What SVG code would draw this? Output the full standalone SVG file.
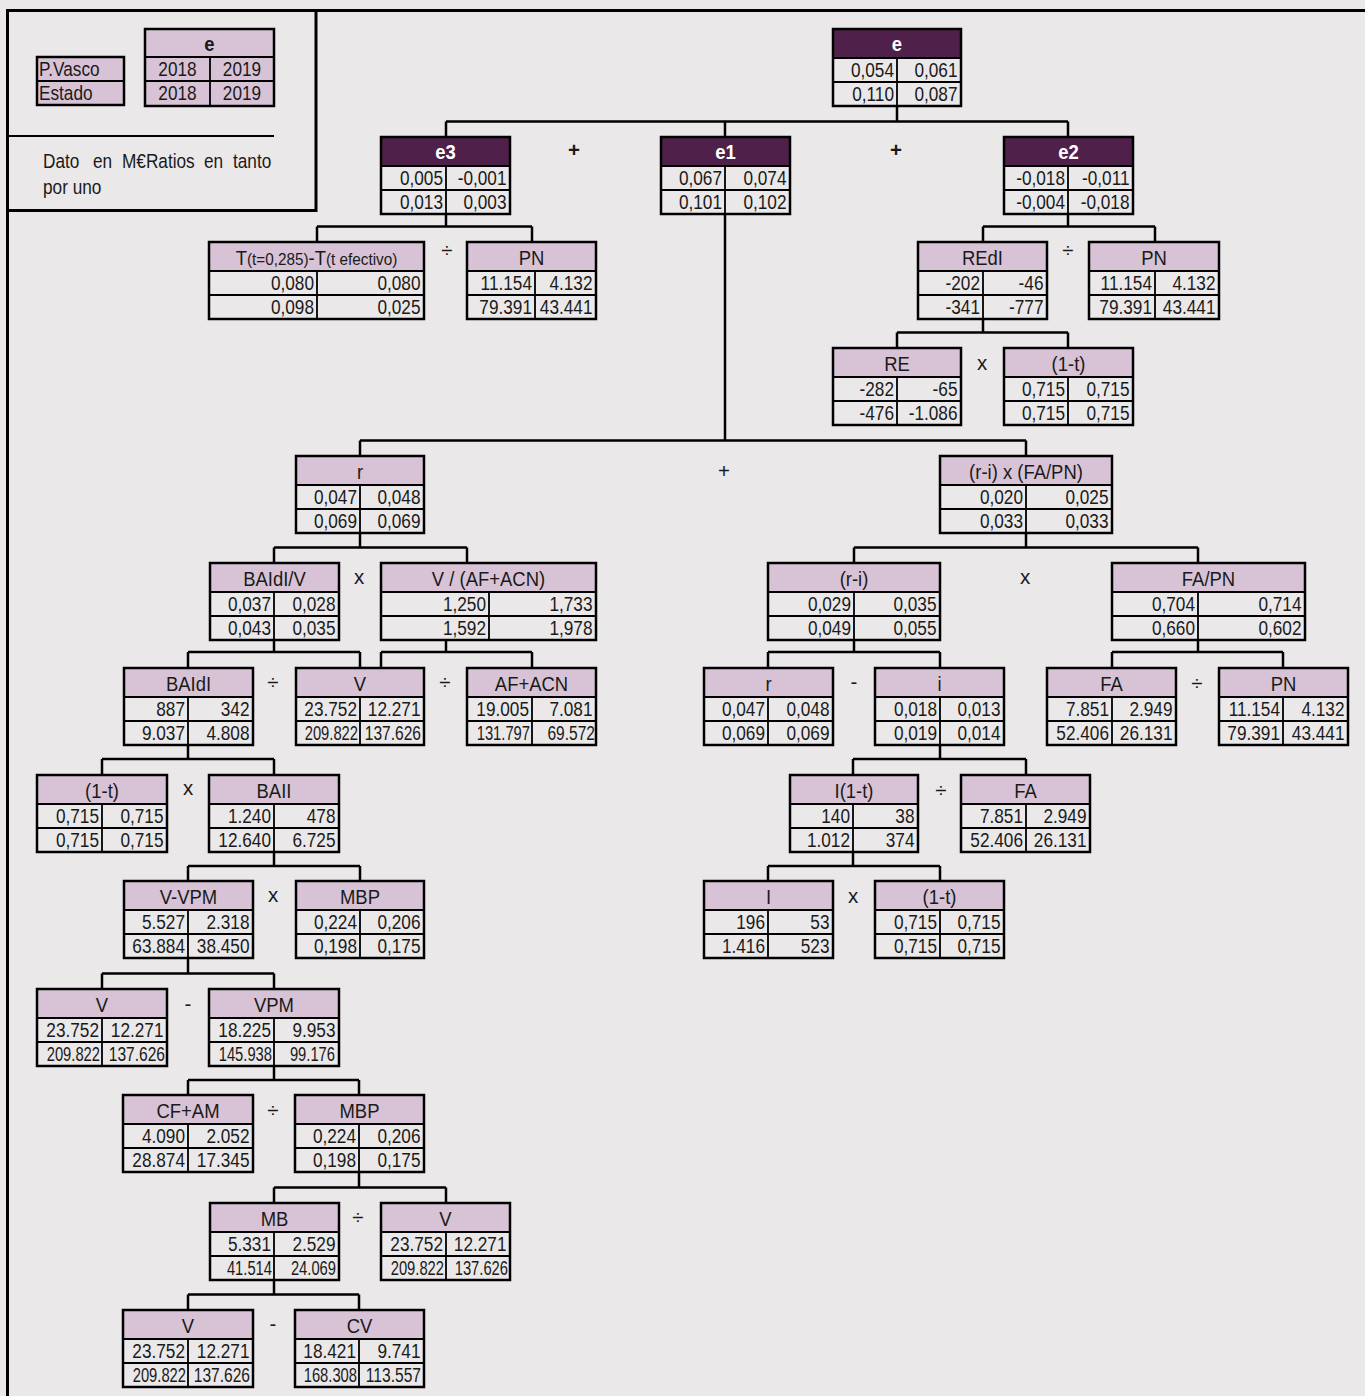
<svg xmlns="http://www.w3.org/2000/svg" width="1365" height="1396" viewBox="0 0 1365 1396">
<style>
.bg{fill:#ebe8e9}
.hl{fill:#d7c3d5}
.hd{fill:#4f2049}
.box{fill:none;stroke:#000;stroke-width:2.5}
.ln{fill:none;stroke:#000;stroke-width:1.8}
.fr{fill:none;stroke:#000;stroke-width:3}
.t{font-family:"Liberation Sans",Arial,sans-serif;font-size:20.5px;fill:#1a1a1a}
.h{text-anchor:middle;transform-box:fill-box;transform-origin:50% 50%;transform:scaleX(.9)}
.c{text-anchor:middle;transform-box:fill-box;transform-origin:50% 50%;transform:scaleX(.84)}
.l{transform-box:fill-box;transform-origin:0% 50%;transform:scaleX(.84)}
.w{fill:#fff;font-weight:bold}
.b{font-weight:bold}
.v{text-anchor:end;transform-box:fill-box;transform-origin:100% 50%;transform:scaleX(.84)}
.q1{text-anchor:end;transform-box:fill-box;transform-origin:100% 50%;transform:scaleX(.72)}
.q2{text-anchor:end;transform-box:fill-box;transform-origin:100% 50%;transform:scaleX(.76)}
.op{text-anchor:middle}
.sm{font-size:17px}
#connectors path{fill:none;stroke:#000;stroke-width:2.5}
</style>
<rect class="bg" x="0" y="0" width="1365" height="1396"/>

<g id="frame">
<path class="fr" d="M7.5 1396 V10.5 H1365"/>
<path class="fr" d="M7.5 210.5 H316 V10.5"/>
<path d="M8 136 H274" stroke="#000" stroke-width="2" fill="none"/>
</g>

<g id="legend">
<rect class="hl" x="37" y="57" width="87" height="48"/>
<rect class="box" x="37" y="57" width="87" height="48"/>
<path class="ln" d="M37 81 H124"/>
<text class="t l" x="39" y="76.5">P.Vasco</text>
<text class="t l" x="39" y="100.5">Estado</text>
<rect class="hl" x="145" y="29" width="129" height="77"/>
<rect class="box" x="145" y="29" width="129" height="77"/>
<path class="ln" d="M145 57 H274 M145 81 H274 M210 57 V106"/>
<text class="t h b" x="209.5" y="51">e</text>
<text class="t c" x="177.5" y="76.5">2018</text>
<text class="t c" x="242" y="76.5">2019</text>
<text class="t c" x="177.5" y="100.5">2018</text>
<text class="t c" x="242" y="100.5">2019</text>
<text class="t l" x="43" y="168.5">Dato</text>
<text class="t l" x="93" y="168.5">en</text>
<text class="t l" x="122" y="168.5">M€Ratios</text>
<text class="t l" x="204" y="168.5">en</text>
<text class="t l" x="233" y="168.5">tanto</text>
<text class="t l" x="43" y="194">por uno</text>
</g>

<g id="connectors">
<path d="M897 106 V121.5 M446 121.5 H1068 M446 121.5 V137 M725 121.5 V137 M1068 121.5 V137"/>
<path d="M446 214 V226.5 M317 226.5 H532 M317 226.5 V242 M532 226.5 V242"/>
<path d="M1068 214 V226.5 M983 226.5 H1155 M983 226.5 V242 M1155 226.5 V242"/>
<path d="M983 319 V332.5 M897 332.5 H1068 M897 332.5 V348 M1068 332.5 V348"/>
<path d="M725 214 V440.5 M360 440.5 H1026 M360 440.5 V456 M1026 440.5 V456"/>
<path d="M360 533 V547.5 M274 547.5 H467 M274 547.5 V563 M467 547.5 V563"/>
<path d="M1026 533 V547.5 M854 547.5 H1198 M854 547.5 V563 M1198 547.5 V563"/>
<path d="M274 640 V652 M188 652 H360 M188 652 V668 M360 652 V668"/>
<path d="M446 640 V652 M381 652 H532 M381 652 V668 M532 652 V668"/>
<path d="M854 640 V652 M768 652 H940 M768 652 V668 M940 652 V668"/>
<path d="M1198 640 V652 M1112 652 H1283 M1112 652 V668 M1283 652 V668"/>
<path d="M188 745 V759 M102 759 H274 M102 759 V775 M274 759 V775"/>
<path d="M940 745 V759 M853 759 H1026 M853 759 V775 M1026 759 V775"/>
<path d="M274 852 V866 M188 866 H360 M188 866 V881 M360 866 V881"/>
<path d="M853 852 V866 M768 866 H940 M768 866 V881 M940 866 V881"/>
<path d="M188 958 V973.5 M102 973.5 H274 M102 973.5 V989 M274 973.5 V989"/>
<path d="M274 1066 V1080 M188 1080 H359 M188 1080 V1095 M359 1080 V1095"/>
<path d="M359 1172 V1187.5 M274 1187.5 H446 M274 1187.5 V1203 M446 1187.5 V1203"/>
<path d="M274 1280 V1294.5 M188 1294.5 H359 M188 1294.5 V1310 M359 1294.5 V1310"/>
</g>

<g id="operators">
<text class="t op b" x="574" y="157">+</text>
<text class="t op b" x="896" y="157">+</text>
<text class="t op" x="447" y="257">÷</text>
<text class="t op" x="1068" y="257">÷</text>
<text class="t op" x="982" y="370">x</text>
<text class="t op" x="724" y="478">+</text>
<text class="t op" x="359" y="584">x</text>
<text class="t op" x="1025" y="584">x</text>
<text class="t op" x="273" y="689">÷</text>
<text class="t op" x="445" y="689">÷</text>
<text class="t op" x="854" y="689">-</text>
<text class="t op" x="1197" y="690">÷</text>
<text class="t op" x="188" y="795">x</text>
<text class="t op" x="941" y="797">÷</text>
<text class="t op" x="273" y="902">x</text>
<text class="t op" x="853" y="903">x</text>
<text class="t op" x="188" y="1011">-</text>
<text class="t op" x="273" y="1117">÷</text>
<text class="t op" x="358" y="1224">÷</text>
<text class="t op" x="273" y="1331">-</text>
</g>

<g id="n-e" transform="translate(833,29)">
<rect class="hd" width="128" height="29"/><rect class="box" width="128" height="77"/>
<path class="ln" d="M0 29 H128 M0 53 H128 M64 29 V77"/>
<text class="t h w" x="64" y="22">e</text>
<text class="t v" x="61" y="48.5">0,054</text><text class="t v" x="124.5" y="48.5">0,061</text>
<text class="t v" x="61" y="72.5">0,110</text><text class="t v" x="124.5" y="72.5">0,087</text>
</g>

<g id="n-e3" transform="translate(381,137)">
<rect class="hd" width="129" height="29"/><rect class="box" width="129" height="77"/>
<path class="ln" d="M0 29 H129 M0 53 H129 M65 29 V77"/>
<text class="t h w" x="64.5" y="22">e3</text>
<text class="t v" x="62" y="48.5">0,005</text><text class="t v" x="125.5" y="48.5">-0,001</text>
<text class="t v" x="62" y="72.5">0,013</text><text class="t v" x="125.5" y="72.5">0,003</text>
</g>

<g id="n-e1" transform="translate(661,137)">
<rect class="hd" width="129" height="29"/><rect class="box" width="129" height="77"/>
<path class="ln" d="M0 29 H129 M0 53 H129 M64 29 V77"/>
<text class="t h w" x="64.5" y="22">e1</text>
<text class="t v" x="61" y="48.5">0,067</text><text class="t v" x="125.5" y="48.5">0,074</text>
<text class="t v" x="61" y="72.5">0,101</text><text class="t v" x="125.5" y="72.5">0,102</text>
</g>

<g id="n-e2" transform="translate(1004,137)">
<rect class="hd" width="129" height="29"/><rect class="box" width="129" height="77"/>
<path class="ln" d="M0 29 H129 M0 53 H129 M64 29 V77"/>
<text class="t h w" x="64.5" y="22">e2</text>
<text class="t v" x="61" y="48.5">-0,018</text><text class="t v" x="125.5" y="48.5">-0,011</text>
<text class="t v" x="61" y="72.5">-0,004</text><text class="t v" x="125.5" y="72.5">-0,018</text>
</g>

<g id="n-T" transform="translate(209,242)">
<rect class="hl" width="215" height="29"/><rect class="box" width="215" height="77"/>
<path class="ln" d="M0 29 H215 M0 53 H215 M108 29 V77"/>
<text class="t h" x="107.5" y="23">T<tspan class="sm">(t=0,285)</tspan>-T<tspan class="sm">(t efectivo)</tspan></text>
<text class="t v" x="105" y="48.5">0,080</text><text class="t v" x="211.5" y="48.5">0,080</text>
<text class="t v" x="105" y="72.5">0,098</text><text class="t v" x="211.5" y="72.5">0,025</text>
</g>

<g id="n-PN1" transform="translate(467,242)">
<rect class="hl" width="129" height="29"/><rect class="box" width="129" height="77"/>
<path class="ln" d="M0 29 H129 M0 53 H129 M68 29 V77"/>
<text class="t h" x="64.5" y="23">PN</text>
<text class="t v" x="65" y="48.5">11.154</text><text class="t v" x="125.5" y="48.5">4.132</text>
<text class="t v" x="65" y="72.5">79.391</text><text class="t v" x="125.5" y="72.5">43.441</text>
</g>

<g id="n-REdI" transform="translate(918,242)">
<rect class="hl" width="129" height="29"/><rect class="box" width="129" height="77"/>
<path class="ln" d="M0 29 H129 M0 53 H129 M65 29 V77"/>
<text class="t h" x="64.5" y="23">REdI</text>
<text class="t v" x="62" y="48.5">-202</text><text class="t v" x="125.5" y="48.5">-46</text>
<text class="t v" x="62" y="72.5">-341</text><text class="t v" x="125.5" y="72.5">-777</text>
</g>

<g id="n-PN2" transform="translate(1089,242)">
<rect class="hl" width="130" height="29"/><rect class="box" width="130" height="77"/>
<path class="ln" d="M0 29 H130 M0 53 H130 M66 29 V77"/>
<text class="t h" x="65" y="23">PN</text>
<text class="t v" x="63" y="48.5">11.154</text><text class="t v" x="126.5" y="48.5">4.132</text>
<text class="t v" x="63" y="72.5">79.391</text><text class="t v" x="126.5" y="72.5">43.441</text>
</g>

<g id="n-RE" transform="translate(833,348)">
<rect class="hl" width="128" height="29"/><rect class="box" width="128" height="77"/>
<path class="ln" d="M0 29 H128 M0 53 H128 M64 29 V77"/>
<text class="t h" x="64" y="23">RE</text>
<text class="t v" x="61" y="48.5">-282</text><text class="t v" x="124.5" y="48.5">-65</text>
<text class="t v" x="61" y="72.5">-476</text><text class="t v" x="124.5" y="72.5">-1.086</text>
</g>

<g id="n-1t-a" transform="translate(1004,348)">
<rect class="hl" width="129" height="29"/><rect class="box" width="129" height="77"/>
<path class="ln" d="M0 29 H129 M0 53 H129 M64 29 V77"/>
<text class="t h" x="64.5" y="23">(1-t)</text>
<text class="t v" x="61" y="48.5">0,715</text><text class="t v" x="125.5" y="48.5">0,715</text>
<text class="t v" x="61" y="72.5">0,715</text><text class="t v" x="125.5" y="72.5">0,715</text>
</g>

<g id="n-r" transform="translate(296,456)">
<rect class="hl" width="128" height="29"/><rect class="box" width="128" height="77"/>
<path class="ln" d="M0 29 H128 M0 53 H128 M64 29 V77"/>
<text class="t h" x="64" y="23">r</text>
<text class="t v" x="61" y="48.5">0,047</text><text class="t v" x="124.5" y="48.5">0,048</text>
<text class="t v" x="61" y="72.5">0,069</text><text class="t v" x="124.5" y="72.5">0,069</text>
</g>

<g id="n-rixFAPN" transform="translate(940,456)">
<rect class="hl" width="172" height="29"/><rect class="box" width="172" height="77"/>
<path class="ln" d="M0 29 H172 M0 53 H172 M86 29 V77"/>
<text class="t h" x="86" y="23">(r-i) x (FA/PN)</text>
<text class="t v" x="83" y="48.5">0,020</text><text class="t v" x="168.5" y="48.5">0,025</text>
<text class="t v" x="83" y="72.5">0,033</text><text class="t v" x="168.5" y="72.5">0,033</text>
</g>

<g id="n-BAIdIV" transform="translate(210,563)">
<rect class="hl" width="129" height="29"/><rect class="box" width="129" height="77"/>
<path class="ln" d="M0 29 H129 M0 53 H129 M64 29 V77"/>
<text class="t h" x="64.5" y="23">BAIdI/V</text>
<text class="t v" x="61" y="48.5">0,037</text><text class="t v" x="125.5" y="48.5">0,028</text>
<text class="t v" x="61" y="72.5">0,043</text><text class="t v" x="125.5" y="72.5">0,035</text>
</g>

<g id="n-VAFACN" transform="translate(381,563)">
<rect class="hl" width="215" height="29"/><rect class="box" width="215" height="77"/>
<path class="ln" d="M0 29 H215 M0 53 H215 M108 29 V77"/>
<text class="t h" x="107.5" y="23">V / (AF+ACN)</text>
<text class="t v" x="105" y="48.5">1,250</text><text class="t v" x="211.5" y="48.5">1,733</text>
<text class="t v" x="105" y="72.5">1,592</text><text class="t v" x="211.5" y="72.5">1,978</text>
</g>

<g id="n-ri" transform="translate(768,563)">
<rect class="hl" width="172" height="29"/><rect class="box" width="172" height="77"/>
<path class="ln" d="M0 29 H172 M0 53 H172 M86 29 V77"/>
<text class="t h" x="86" y="23">(r-i)</text>
<text class="t v" x="83" y="48.5">0,029</text><text class="t v" x="168.5" y="48.5">0,035</text>
<text class="t v" x="83" y="72.5">0,049</text><text class="t v" x="168.5" y="72.5">0,055</text>
</g>

<g id="n-FAPN" transform="translate(1112,563)">
<rect class="hl" width="193" height="29"/><rect class="box" width="193" height="77"/>
<path class="ln" d="M0 29 H193 M0 53 H193 M86 29 V77"/>
<text class="t h" x="96.5" y="23">FA/PN</text>
<text class="t v" x="83" y="48.5">0,704</text><text class="t v" x="189.5" y="48.5">0,714</text>
<text class="t v" x="83" y="72.5">0,660</text><text class="t v" x="189.5" y="72.5">0,602</text>
</g>

<g id="n-BAIdI" transform="translate(124,668)">
<rect class="hl" width="129" height="29"/><rect class="box" width="129" height="77"/>
<path class="ln" d="M0 29 H129 M0 53 H129 M64 29 V77"/>
<text class="t h" x="64.5" y="23">BAIdI</text>
<text class="t v" x="61" y="48.5">887</text><text class="t v" x="125.5" y="48.5">342</text>
<text class="t v" x="61" y="72.5">9.037</text><text class="t v" x="125.5" y="72.5">4.808</text>
</g>

<g id="n-V1" transform="translate(296,668)">
<rect class="hl" width="128" height="29"/><rect class="box" width="128" height="77"/>
<path class="ln" d="M0 29 H128 M0 53 H128 M64 29 V77"/>
<text class="t h" x="64" y="23">V</text>
<text class="t v" x="61" y="48.5">23.752</text><text class="t v" x="124.5" y="48.5">12.271</text>
<text class="t q1" x="62" y="72.5">209.822</text><text class="t q2" x="125" y="72.5">137.626</text>
</g>

<g id="n-AFACN" transform="translate(467,668)">
<rect class="hl" width="129" height="29"/><rect class="box" width="129" height="77"/>
<path class="ln" d="M0 29 H129 M0 53 H129 M65 29 V77"/>
<text class="t h" x="64.5" y="23">AF+ACN</text>
<text class="t v" x="62" y="48.5">19.005</text><text class="t v" x="125.5" y="48.5">7.081</text>
<text class="t q1" x="63" y="72.5">131.797</text><text class="t q2" x="128" y="72.5">69.572</text>
</g>

<g id="n-r2" transform="translate(704,668)">
<rect class="hl" width="129" height="29"/><rect class="box" width="129" height="77"/>
<path class="ln" d="M0 29 H129 M0 53 H129 M64 29 V77"/>
<text class="t h" x="64.5" y="23">r</text>
<text class="t v" x="61" y="48.5">0,047</text><text class="t v" x="125.5" y="48.5">0,048</text>
<text class="t v" x="61" y="72.5">0,069</text><text class="t v" x="125.5" y="72.5">0,069</text>
</g>

<g id="n-i" transform="translate(875,668)">
<rect class="hl" width="129" height="29"/><rect class="box" width="129" height="77"/>
<path class="ln" d="M0 29 H129 M0 53 H129 M65 29 V77"/>
<text class="t h" x="64.5" y="23">i</text>
<text class="t v" x="62" y="48.5">0,018</text><text class="t v" x="125.5" y="48.5">0,013</text>
<text class="t v" x="62" y="72.5">0,019</text><text class="t v" x="125.5" y="72.5">0,014</text>
</g>

<g id="n-FA1" transform="translate(1047,668)">
<rect class="hl" width="129" height="29"/><rect class="box" width="129" height="77"/>
<path class="ln" d="M0 29 H129 M0 53 H129 M65 29 V77"/>
<text class="t h" x="64.5" y="23">FA</text>
<text class="t v" x="62" y="48.5">7.851</text><text class="t v" x="125.5" y="48.5">2.949</text>
<text class="t v" x="62" y="72.5">52.406</text><text class="t v" x="125.5" y="72.5">26.131</text>
</g>

<g id="n-PN3" transform="translate(1219,668)">
<rect class="hl" width="129" height="29"/><rect class="box" width="129" height="77"/>
<path class="ln" d="M0 29 H129 M0 53 H129 M64 29 V77"/>
<text class="t h" x="64.5" y="23">PN</text>
<text class="t v" x="61" y="48.5">11.154</text><text class="t v" x="125.5" y="48.5">4.132</text>
<text class="t v" x="61" y="72.5">79.391</text><text class="t v" x="125.5" y="72.5">43.441</text>
</g>

<g id="n-1t-b" transform="translate(37,775)">
<rect class="hl" width="130" height="29"/><rect class="box" width="130" height="77"/>
<path class="ln" d="M0 29 H130 M0 53 H130 M65 29 V77"/>
<text class="t h" x="65" y="23">(1-t)</text>
<text class="t v" x="62" y="48.5">0,715</text><text class="t v" x="126.5" y="48.5">0,715</text>
<text class="t v" x="62" y="72.5">0,715</text><text class="t v" x="126.5" y="72.5">0,715</text>
</g>

<g id="n-BAII" transform="translate(209,775)">
<rect class="hl" width="130" height="29"/><rect class="box" width="130" height="77"/>
<path class="ln" d="M0 29 H130 M0 53 H130 M65 29 V77"/>
<text class="t h" x="65" y="23">BAII</text>
<text class="t v" x="62" y="48.5">1.240</text><text class="t v" x="126.5" y="48.5">478</text>
<text class="t v" x="62" y="72.5">12.640</text><text class="t v" x="126.5" y="72.5">6.725</text>
</g>

<g id="n-I1t" transform="translate(790,775)">
<rect class="hl" width="128" height="29"/><rect class="box" width="128" height="77"/>
<path class="ln" d="M0 29 H128 M0 53 H128 M63 29 V77"/>
<text class="t h" x="64" y="23">I(1-t)</text>
<text class="t v" x="60" y="48.5">140</text><text class="t v" x="124.5" y="48.5">38</text>
<text class="t v" x="60" y="72.5">1.012</text><text class="t v" x="124.5" y="72.5">374</text>
</g>

<g id="n-FA2" transform="translate(961,775)">
<rect class="hl" width="129" height="29"/><rect class="box" width="129" height="77"/>
<path class="ln" d="M0 29 H129 M0 53 H129 M65 29 V77"/>
<text class="t h" x="64.5" y="23">FA</text>
<text class="t v" x="62" y="48.5">7.851</text><text class="t v" x="125.5" y="48.5">2.949</text>
<text class="t v" x="62" y="72.5">52.406</text><text class="t v" x="125.5" y="72.5">26.131</text>
</g>

<g id="n-VVPM" transform="translate(124,881)">
<rect class="hl" width="129" height="29"/><rect class="box" width="129" height="77"/>
<path class="ln" d="M0 29 H129 M0 53 H129 M64 29 V77"/>
<text class="t h" x="64.5" y="23">V-VPM</text>
<text class="t v" x="61" y="48.5">5.527</text><text class="t v" x="125.5" y="48.5">2.318</text>
<text class="t v" x="61" y="72.5">63.884</text><text class="t v" x="125.5" y="72.5">38.450</text>
</g>

<g id="n-MBP1" transform="translate(296,881)">
<rect class="hl" width="128" height="29"/><rect class="box" width="128" height="77"/>
<path class="ln" d="M0 29 H128 M0 53 H128 M64 29 V77"/>
<text class="t h" x="64" y="23">MBP</text>
<text class="t v" x="61" y="48.5">0,224</text><text class="t v" x="124.5" y="48.5">0,206</text>
<text class="t v" x="61" y="72.5">0,198</text><text class="t v" x="124.5" y="72.5">0,175</text>
</g>

<g id="n-I" transform="translate(704,881)">
<rect class="hl" width="129" height="29"/><rect class="box" width="129" height="77"/>
<path class="ln" d="M0 29 H129 M0 53 H129 M64 29 V77"/>
<text class="t h" x="64.5" y="23">I</text>
<text class="t v" x="61" y="48.5">196</text><text class="t v" x="125.5" y="48.5">53</text>
<text class="t v" x="61" y="72.5">1.416</text><text class="t v" x="125.5" y="72.5">523</text>
</g>

<g id="n-1t-c" transform="translate(875,881)">
<rect class="hl" width="129" height="29"/><rect class="box" width="129" height="77"/>
<path class="ln" d="M0 29 H129 M0 53 H129 M65 29 V77"/>
<text class="t h" x="64.5" y="23">(1-t)</text>
<text class="t v" x="62" y="48.5">0,715</text><text class="t v" x="125.5" y="48.5">0,715</text>
<text class="t v" x="62" y="72.5">0,715</text><text class="t v" x="125.5" y="72.5">0,715</text>
</g>

<g id="n-V2" transform="translate(37,989)">
<rect class="hl" width="130" height="29"/><rect class="box" width="130" height="77"/>
<path class="ln" d="M0 29 H130 M0 53 H130 M65 29 V77"/>
<text class="t h" x="65" y="23">V</text>
<text class="t v" x="62" y="48.5">23.752</text><text class="t v" x="126.5" y="48.5">12.271</text>
<text class="t q1" x="63" y="72.5">209.822</text><text class="t q2" x="128" y="72.5">137.626</text>
</g>

<g id="n-VPM" transform="translate(209,989)">
<rect class="hl" width="130" height="29"/><rect class="box" width="130" height="77"/>
<path class="ln" d="M0 29 H130 M0 53 H130 M65 29 V77"/>
<text class="t h" x="65" y="23">VPM</text>
<text class="t v" x="62" y="48.5">18.225</text><text class="t v" x="126.5" y="48.5">9.953</text>
<text class="t q1" x="63" y="72.5">145.938</text><text class="t q1" x="126" y="72.5">99.176</text>
</g>

<g id="n-CFAM" transform="translate(123,1095)">
<rect class="hl" width="130" height="29"/><rect class="box" width="130" height="77"/>
<path class="ln" d="M0 29 H130 M0 53 H130 M65 29 V77"/>
<text class="t h" x="65" y="23">CF+AM</text>
<text class="t v" x="62" y="48.5">4.090</text><text class="t v" x="126.5" y="48.5">2.052</text>
<text class="t v" x="62" y="72.5">28.874</text><text class="t v" x="126.5" y="72.5">17.345</text>
</g>

<g id="n-MBP2" transform="translate(295,1095)">
<rect class="hl" width="129" height="29"/><rect class="box" width="129" height="77"/>
<path class="ln" d="M0 29 H129 M0 53 H129 M64 29 V77"/>
<text class="t h" x="64.5" y="23">MBP</text>
<text class="t v" x="61" y="48.5">0,224</text><text class="t v" x="125.5" y="48.5">0,206</text>
<text class="t v" x="61" y="72.5">0,198</text><text class="t v" x="125.5" y="72.5">0,175</text>
</g>

<g id="n-MB" transform="translate(210,1203)">
<rect class="hl" width="129" height="29"/><rect class="box" width="129" height="77"/>
<path class="ln" d="M0 29 H129 M0 53 H129 M64 29 V77"/>
<text class="t h" x="64.5" y="23">MB</text>
<text class="t v" x="61" y="48.5">5.331</text><text class="t v" x="125.5" y="48.5">2.529</text>
<text class="t q1" x="62" y="72.5">41.514</text><text class="t q1" x="126" y="72.5">24.069</text>
</g>

<g id="n-V3" transform="translate(381,1203)">
<rect class="hl" width="129" height="29"/><rect class="box" width="129" height="77"/>
<path class="ln" d="M0 29 H129 M0 53 H129 M65 29 V77"/>
<text class="t h" x="64.5" y="23">V</text>
<text class="t v" x="62" y="48.5">23.752</text><text class="t v" x="125.5" y="48.5">12.271</text>
<text class="t q1" x="63" y="72.5">209.822</text><text class="t q1" x="127" y="72.5">137.626</text>
</g>

<g id="n-V4" transform="translate(123,1310)">
<rect class="hl" width="130" height="29"/><rect class="box" width="130" height="77"/>
<path class="ln" d="M0 29 H130 M0 53 H130 M65 29 V77"/>
<text class="t h" x="65" y="23">V</text>
<text class="t v" x="62" y="48.5">23.752</text><text class="t v" x="126.5" y="48.5">12.271</text>
<text class="t q1" x="63" y="72.5">209.822</text><text class="t q2" x="127" y="72.5">137.626</text>
</g>

<g id="n-CV" transform="translate(295,1310)">
<rect class="hl" width="129" height="29"/><rect class="box" width="129" height="77"/>
<path class="ln" d="M0 29 H129 M0 53 H129 M64 29 V77"/>
<text class="t h" x="64.5" y="23">CV</text>
<text class="t v" x="61" y="48.5">18.421</text><text class="t v" x="125.5" y="48.5">9.741</text>
<text class="t q1" x="62" y="72.5">168.308</text><text class="t q2" x="126" y="72.5">113.557</text>
</g>
</svg>
